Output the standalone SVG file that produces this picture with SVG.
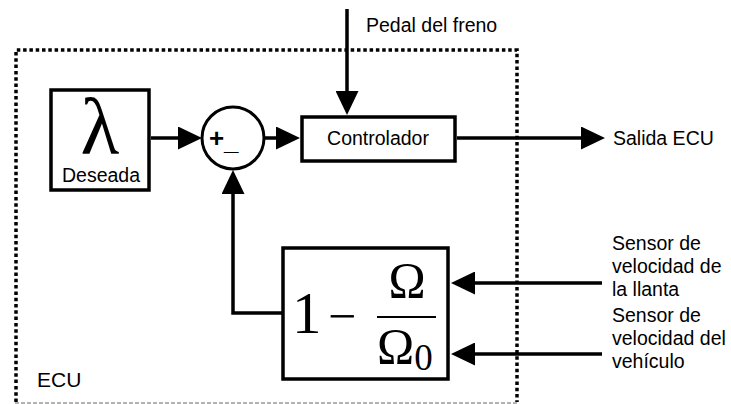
<svg xmlns="http://www.w3.org/2000/svg" width="731" height="404" viewBox="0 0 731 404">
<defs>
<marker id="arr" viewBox="0 0 24 23" refX="14" refY="11.5" markerWidth="24" markerHeight="23" markerUnits="userSpaceOnUse" orient="auto">
<path d="M0,0 L24,11.5 L0,23 Z" fill="#000"/>
</marker>
<style>
.box{fill:#fff;stroke:#000;stroke-width:3.5}
.lbl{font-family:"Liberation Sans",Arial,sans-serif;font-size:19.5px;fill:#000}
.ser{font-family:"Liberation Serif","Times New Roman",serif;fill:#000}
.conn{fill:none;stroke:#000;stroke-width:3.5;marker-end:url(#arr)}
</style>
</defs>
<rect width="731" height="404" fill="#fff"/>
<g id="ecu-boundary">
<path d="M16,402 V50 H517 V402" fill="none" stroke="#000" stroke-width="3.5" stroke-dasharray="3.5 2.8"/>
<line x1="15" y1="403" x2="517" y2="403" stroke="#666" stroke-width="1" stroke-dasharray="4 2"/>
<text class="lbl" x="37" y="387" style="font-size:21px">ECU</text>
</g>
<g id="connectors">
<line class="conn" x1="151" y1="138" x2="192" y2="138"/>
<line class="conn" x1="264" y1="138" x2="290" y2="138"/>
<line class="conn" x1="347" y1="9" x2="347" y2="105"/>
<line class="conn" x1="457" y1="138" x2="595" y2="138"/>
<path class="conn" d="M283,313 H233 V180"/>
<line class="conn" x1="602" y1="283" x2="461" y2="283"/>
<line class="conn" x1="602" y1="354" x2="461" y2="354"/>
</g>
<g id="lambda">
<rect class="box" x="51" y="90" width="98" height="100"/>
<text class="ser" x="100" y="154" style="font-size:80px" text-anchor="middle">λ</text>
<text class="lbl" x="101" y="182" text-anchor="middle">Deseada</text>
</g>
<g id="sum">
<circle cx="233" cy="138" r="31" fill="#fff" stroke="#000" stroke-width="3"/>
<text class="lbl" style="font-size:26px;font-weight:bold"><tspan x="209" y="147">+</tspan><tspan x="224" y="150">_</tspan></text>
</g>
<g id="controlador">
<rect class="box" x="302" y="117" width="153" height="44"/>
<text class="lbl" x="378" y="145" text-anchor="middle">Controlador</text>
</g>
<g id="slip">
<rect class="box" x="283" y="248" width="165" height="131"/>
<text class="ser" x="292" y="333" style="font-size:59px">1</text>
<text class="ser" x="328" y="333" style="font-size:50px">−</text>
<line x1="377" y1="317" x2="436" y2="317" stroke="#000" stroke-width="2"/>
<text class="ser" x="407" y="297" style="font-size:50px" text-anchor="middle">Ω</text>
<text class="ser" x="377" y="363" style="font-size:50px">Ω<tspan style="font-size:37px" dy="7">0</tspan></text>
</g>
<g id="labels">
<text class="lbl" x="366" y="32">Pedal del freno</text>
<text class="lbl" x="613" y="145">Salida ECU</text>
<text class="lbl"><tspan x="612" y="250">Sensor de</tspan><tspan x="612" y="273">velocidad de</tspan><tspan x="612" y="296">la llanta</tspan></text>
<text class="lbl"><tspan x="612" y="322">Sensor de</tspan><tspan x="612" y="345">velocidad del</tspan><tspan x="612" y="368">vehículo</tspan></text>
</g>
</svg>
